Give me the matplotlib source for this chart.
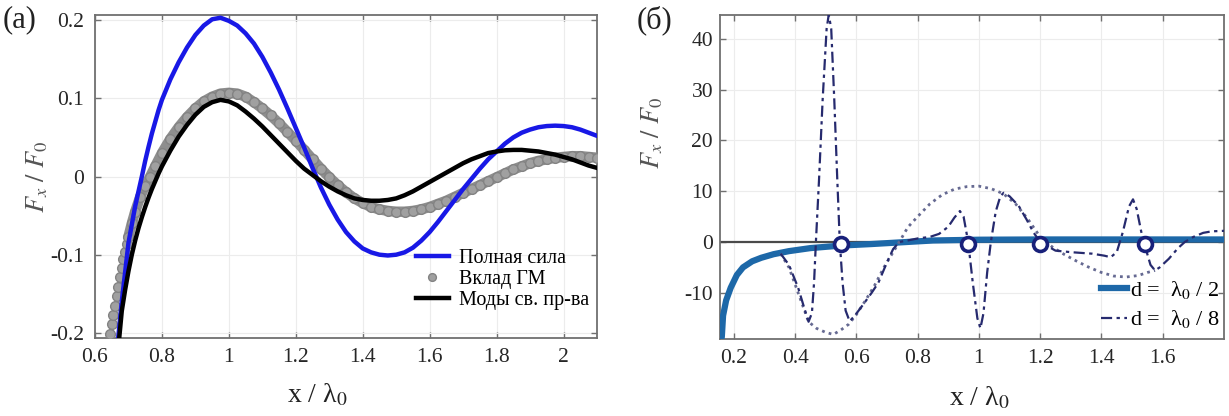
import matplotlib
matplotlib.use('Agg')
import matplotlib.pyplot as plt
from matplotlib.ticker import FuncFormatter

plt.rcParams['font.family'] = ['Liberation Serif', 'DejaVu Serif']
plt.rcParams['mathtext.fontset'] = 'stix'
plt.rcParams['axes.unicode_minus'] = False

# ---- panel (a): force vs distance ----
tot_x = [0.665, 0.68, 0.70, 0.72, 0.74, 0.75, 0.76, 0.77, 0.78, 0.79, 0.80, 0.825, 0.85,
         0.875, 0.90, 0.925, 0.95, 0.975, 1.0, 1.025, 1.05, 1.075, 1.10, 1.125, 1.15, 1.175,
         1.20, 1.225, 1.25, 1.275, 1.30, 1.325, 1.35, 1.375, 1.40, 1.425, 1.45, 1.475, 1.50,
         1.525, 1.55, 1.575, 1.60, 1.625, 1.65, 1.675, 1.70, 1.725, 1.75, 1.775, 1.80,
         1.825, 1.85, 1.875, 1.90, 1.925, 1.95, 1.975, 2.0, 2.025, 2.05, 2.075, 2.1]
tot_y = [-0.225, -0.16, -0.085, -0.038, 0.0, 0.02, 0.038, 0.055, 0.07, 0.085, 0.098, 0.124, 0.146,
         0.165, 0.181, 0.193, 0.201, 0.203, 0.199, 0.193, 0.183, 0.170, 0.153, 0.133, 0.111, 0.087,
         0.062, 0.037, 0.011, -0.014, -0.036, -0.055, -0.071, -0.083, -0.092, -0.097, -0.100, -0.101, -0.100,
         -0.097, -0.091, -0.082, -0.071, -0.058, -0.044, -0.030, -0.016, -0.003, 0.010, 0.022, 0.032,
         0.042, 0.050, 0.056, 0.060, 0.063, 0.0645, 0.065, 0.0645, 0.063, 0.060, 0.056, 0.052]

free_x = [0.665, 0.68, 0.69, 0.70, 0.71, 0.72, 0.73, 0.74, 0.75, 0.76, 0.77, 0.78, 0.79, 0.80,
          0.825, 0.85, 0.875, 0.90, 0.925, 0.95, 0.975, 1.0, 1.025, 1.05, 1.075, 1.10, 1.125,
          1.15, 1.175, 1.20, 1.225, 1.25, 1.275, 1.30, 1.325, 1.35, 1.375, 1.40, 1.425, 1.45,
          1.475, 1.50, 1.525, 1.55, 1.575, 1.60, 1.625, 1.65, 1.675, 1.70, 1.725, 1.75, 1.775,
          1.80, 1.825, 1.85, 1.875, 1.90, 1.925, 1.95, 1.975, 2.0, 2.025, 2.05, 2.075, 2.1]
free_y = [-0.24, -0.172, -0.145, -0.121, -0.1, -0.082, -0.066, -0.052, -0.039, -0.027, -0.016, -0.006, 0.004, 0.013,
          0.033, 0.051, 0.066, 0.079, 0.089, 0.095, 0.098, 0.096, 0.091, 0.083, 0.074, 0.064, 0.053,
          0.042, 0.031, 0.020, 0.010, 0.002, -0.006, -0.013, -0.019, -0.024, -0.028, -0.030, -0.031, -0.031,
          -0.030, -0.028, -0.024, -0.019, -0.013, -0.007, -0.001, 0.005, 0.011, 0.017, 0.022, 0.026, 0.030,
          0.032, 0.0335, 0.034, 0.034, 0.033, 0.032, 0.030, 0.028, 0.025, 0.022, 0.018, 0.014, 0.011]

gm_x = [0.640, 0.645, 0.650, 0.655, 0.660, 0.665, 0.670, 0.675, 0.680, 0.685, 0.690, 0.695,
        0.700, 0.710, 0.720, 0.735, 0.750, 0.765, 0.780, 0.800, 0.825, 0.85, 0.875, 0.90,
        0.925, 0.95, 0.975, 1.0, 1.025, 1.05, 1.075, 1.10, 1.125, 1.15, 1.175, 1.20,
        1.225, 1.25, 1.275, 1.30, 1.325, 1.35, 1.375, 1.40, 1.425, 1.45, 1.475, 1.50,
        1.525, 1.55, 1.575, 1.60, 1.625, 1.65, 1.675, 1.70, 1.725, 1.75, 1.775, 1.80,
        1.825, 1.85, 1.875, 1.90, 1.925, 1.95, 1.975, 2.0, 2.025, 2.05, 2.075, 2.1]
gm_y = [-0.214, -0.201, -0.189, -0.177, -0.165, -0.153, -0.141, -0.129, -0.117, -0.106, -0.096, -0.086,
        -0.077, -0.060, -0.045, -0.026, -0.012, 0.0, 0.013, 0.030, 0.048, 0.063, 0.076, 0.087,
        0.096, 0.102, 0.106, 0.107, 0.106, 0.102, 0.095, 0.087, 0.078, 0.068, 0.057, 0.046,
        0.034, 0.022, 0.010, -0.001, -0.011, -0.020, -0.028, -0.034, -0.039, -0.042, -0.044, -0.045,
        -0.045, -0.044, -0.042, -0.039, -0.035, -0.031, -0.026, -0.021, -0.016, -0.011, -0.006, -0.001,
        0.004, 0.009, 0.013, 0.017, 0.020, 0.022, 0.024, 0.025, 0.026, 0.026, 0.025, 0.024]

# ---- panel (b) ----
half_x = [0.155, 0.161, 0.165, 0.175, 0.19, 0.21, 0.23, 0.26, 0.29, 0.33, 0.38, 0.45,
          0.55, 0.65, 0.75, 0.85, 1.0, 1.2, 1.4, 1.6, 1.8]
half_y = [-21.0, -18.6, -14.5, -11.5, -9.0, -6.5, -5.0, -3.8, -3.1, -2.4, -1.8, -1.2,
          -0.7, -0.4, -0.05, 0.3, 0.45, 0.5, 0.5, 0.5, 0.5]

eighth_x = [0.353, 0.38, 0.41, 0.43, 0.444, 0.455, 0.462, 0.468, 0.478, 0.49, 0.503, 0.51,
            0.518, 0.528, 0.538, 0.546, 0.555, 0.565, 0.578, 0.595, 0.62, 0.65, 0.672, 0.70,
            0.72, 0.74, 0.768, 0.80, 0.84, 0.87, 0.90, 0.92, 0.938, 0.95, 0.965, 0.98,
            0.995, 1.005, 1.015, 1.027, 1.039, 1.055, 1.07, 1.081, 1.10, 1.13, 1.155, 1.178,
            1.20, 1.25, 1.30, 1.37, 1.41, 1.43, 1.45, 1.47, 1.49, 1.503, 1.515, 1.53,
            1.543, 1.56, 1.575, 1.59, 1.62, 1.65, 1.672, 1.70, 1.732, 1.76, 1.8]
eighth_y = [-2.3, -4.5, -9.0, -13.0, -15.7, -14.0, -8.0, 0.0, 12.0, 28.0, 42.0, 44.8,
            42.0, 28.0, 12.0, 0.0, -8.0, -13.5, -15.6, -14.5, -12.5, -10.0, -8.0, -4.0,
            -1.4, 0.0, 0.3, 0.7, 1.0, 1.6, 3.0, 4.8, 6.1, 5.0, 0.0, -8.0,
            -15.0, -17.0, -14.0, -6.0, 0.0, 6.0, 9.0, 9.7, 9.0, 7.1, 4.5, 1.9,
            0.0, -1.7, -2.0, -2.3, -2.7, -3.0, -2.0, 2.0, 7.0, 8.4, 6.5, 2.0,
            -1.0, -4.5, -5.6, -5.0, -3.3, -1.2, 0.0, 1.0, 1.8, 2.1, 2.2]

dot_x = [0.353, 0.38, 0.41, 0.444, 0.47, 0.50, 0.525, 0.55, 0.575, 0.60, 0.63, 0.66,
         0.69, 0.72, 0.745, 0.768, 0.80, 0.84, 0.88, 0.92, 0.96, 1.0, 1.04, 1.08,
         1.12, 1.16, 1.20, 1.24, 1.28, 1.32, 1.36, 1.40, 1.44, 1.48, 1.52, 1.55, 1.575]
dot_y = [-2.3, -5.0, -10.0, -15.7, -17.0, -17.8, -18.2, -17.3, -16.2, -14.3, -11.5, -8.5,
         -5.0, -2.0, 0.5, 2.9, 5.0, 7.5, 9.3, 10.4, 10.9, 11.0, 10.5, 9.5,
         7.5, 4.5, 1.0, -1.0, -2.5, -3.8, -5.0, -6.0, -6.7, -6.9, -6.6, -6.0, -5.6]

circ_x = [0.55, 0.965, 1.2, 1.543]
circ_y = [-0.3, -0.3, -0.3, -0.3]

labels_a = ['Полная сила', 'Вклад ГМ', 'Моды св. пр-ва']
labels_b = ['d =  λ$_0$ / 2', 'd =  λ$_0$ / 8']

W, H = 1229, 416
fig = plt.figure(figsize=(W / 100, H / 100), dpi=100)
ax1 = fig.add_axes([95 / W, 1 - 338 / H, 502 / W, 323 / H])
ax2 = fig.add_axes([720 / W, 1 - 339 / H, 504 / W, 324 / H])

fmt = FuncFormatter(lambda v, p: '%g' % round(v, 3))
tick_col = '#262626'
for ax in (ax1, ax2):
    ax.grid(True, color='#ececec', lw=0.8)
    ax.set_axisbelow(True)
    for s in ax.spines.values():
        s.set_color('#707070')
        s.set_linewidth(1.3)
    ax.tick_params(direction='in', length=4, width=1, color='#707070',
                   top=True, right=True, labelsize=15.5, labelcolor=tick_col)
    ax.xaxis.set_major_formatter(fmt)
    ax.yaxis.set_major_formatter(fmt)

# panel (a)
ax1.plot(tot_x, tot_y, color='#1818e6', lw=3.2, label=labels_a[0], zorder=4)
# dense GM markers merge into a grey band
ax1.plot(gm_x[12:], gm_y[12:], color='#8e8e8e', lw=7.5, solid_capstyle='round', zorder=3)
ax1.plot(gm_x, gm_y, 'o', ms=7, mfc='#a0a0a0', mec='#838383', mew=1.0,
         label=labels_a[1], zorder=3)
ax1.plot(free_x, free_y, color='#000000', lw=3.2, label=labels_a[2], zorder=5)
ax1.set_xlim(0.6, 2.1)
ax1.set_ylim(-0.2065, 0.2065)
ax1.set_xticks([0.6, 0.8, 1.0, 1.2, 1.4, 1.6, 1.8, 2.0])
ax1.set_yticks([-0.2, -0.1, 0, 0.1, 0.2])
ax1.tick_params(axis='x', pad=7)
ax1.tick_params(axis='y', pad=8)
ax1.set_xlabel('x / λ$_0$', fontsize=20, color='#222222')
ax1.xaxis.set_label_coords(0.442, -0.135)
ax1.set_ylabel(r'$F_x\ /\ F_0$', fontsize=19, color='#555555')
ax1.yaxis.set_label_coords(-0.09, 0.5)
ax1.legend(loc='upper left', bbox_to_anchor=(0.64, 0.275), frameon=False,
           fontsize=14.5, handlelength=1.6, handletextpad=0.5, labelspacing=0.08,
           borderpad=0, borderaxespad=0, markerscale=0.8)

# panel (b)
ax2.axhline(0, color='#4a4a4a', lw=1.6, zorder=2)
ax2.plot(half_x, half_y, color='#1d68a8', lw=4.5, label=labels_b[0], zorder=3)
ax2.plot(dot_x, dot_y, color='#666a92', lw=2.0, ls=(0, (1, 1.5)), zorder=4)
ax2.plot(eighth_x, eighth_y, color='#262a6e', lw=1.6, ls=(0, (5, 2, 1.5, 2)),
         label=labels_b[1], zorder=5)
ax2.plot(circ_x, circ_y, 'o', ms=10, mfc='white', mec='#18207a', mew=2.6, zorder=6)
ax2.set_xlim(0.155, 1.8)
ax2.set_ylim(-19.1, 44.7)
ax2.set_xticks([0.2, 0.4, 0.6, 0.8, 1.0, 1.2, 1.4, 1.6])
ax2.set_yticks([-10, 0, 10, 20, 30, 40])
ax2.tick_params(axis='x', pad=7)
ax2.tick_params(axis='y', pad=5)
ax2.set_xlabel('x / λ$_0$', fontsize=20, color='#222222')
ax2.xaxis.set_label_coords(0.514, -0.14)
ax2.set_ylabel(r'$F_x\ /\ F_0$', fontsize=19, color='#555555')
ax2.yaxis.set_label_coords(-0.109, 0.636)
ax2.legend(loc='upper right', bbox_to_anchor=(1.0, 0.2), frameon=False,
           fontsize=16, handlelength=1.2, handletextpad=0.1, labelspacing=0.35,
           borderpad=0, borderaxespad=0.2)

fig.text(3 / W, 1 - 20 / H, '(a)', fontsize=22, va='center', ha='left', color='#222222')
fig.text(637 / W, 1 - 20 / H, '(б)', fontsize=22, va='center', ha='left', color='#222222')

fig.savefig('out.png', dpi=100)
